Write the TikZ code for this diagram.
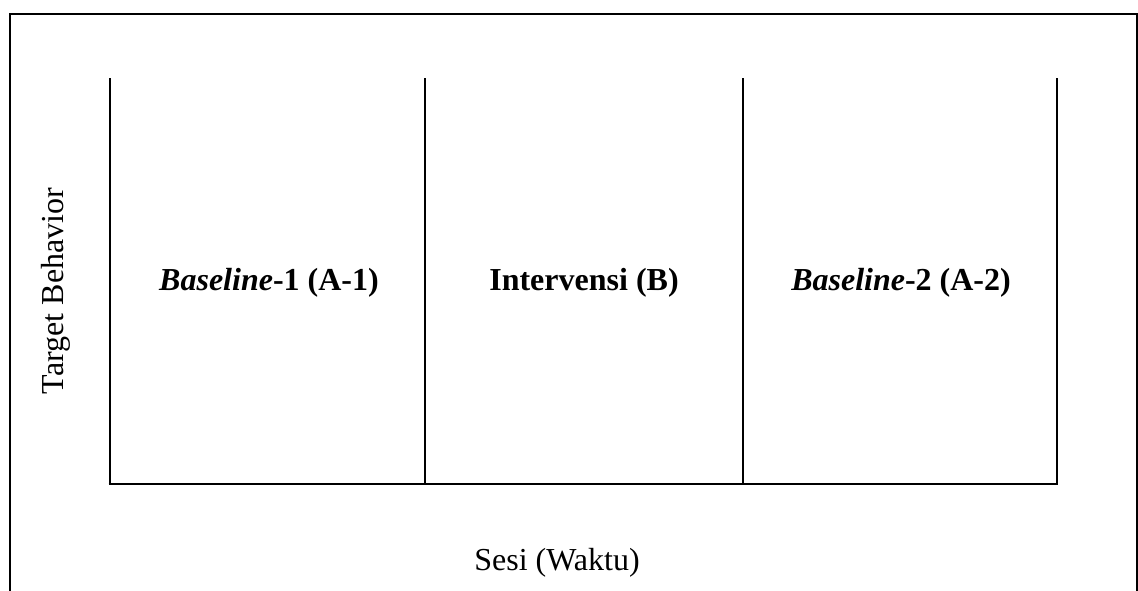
\documentclass[tikz,border=0pt]{standalone}
\usepackage{fontspec}
\setmainfont{Liberation Serif}
\begin{document}
\begin{tikzpicture}[x=1pt,y=-1pt,
  frame/.style={line width=2.2pt},
  grid/.style={line width=2.6pt},
  phase/.style={font=\fontsize{32}{38}\selectfont\bfseries, anchor=base},
  axislabel/.style={font=\fontsize{32}{38}\selectfont, anchor=base}]
\useasboundingbox (0,0) rectangle (1138,590);
% outer frame (open at the bottom)
\draw[frame] (10,591) -- (10,14) -- (1137,14) -- (1137,591);
% phase boundaries
\coordinate (t0) at (110,78);  \coordinate (b0) at (110,484);
\coordinate (t1) at (425,78);  \coordinate (b1) at (425,484);
\coordinate (t2) at (743,78);  \coordinate (b2) at (743,484);
\coordinate (t3) at (1057,78); \coordinate (b3) at (1057,484);
\draw[grid] (t0) -- (b0);
\draw[grid] (t1) -- (b1);
\draw[grid] (t2) -- (b2);
\draw[grid] (t3) -- (b3);
\draw[grid] ([xshift=-1.3pt]b0) -- ([xshift=1.3pt]b3);
% phase labels
\node[phase] (p1) at (269,290) {\textit{Baseline}-1 (A-1)};
\node[phase] (p2) at (584,290) {Intervensi (B)};
\node[phase] (p3) at (901,290) {\textit{Baseline}-2 (A-2)};
% axis labels
\node[axislabel, rotate=90] (yl) at (63,291) {Target Behavior};
\node[axislabel] (xl) at (557,570) {Sesi (Waktu)};
\end{tikzpicture}
\end{document}
